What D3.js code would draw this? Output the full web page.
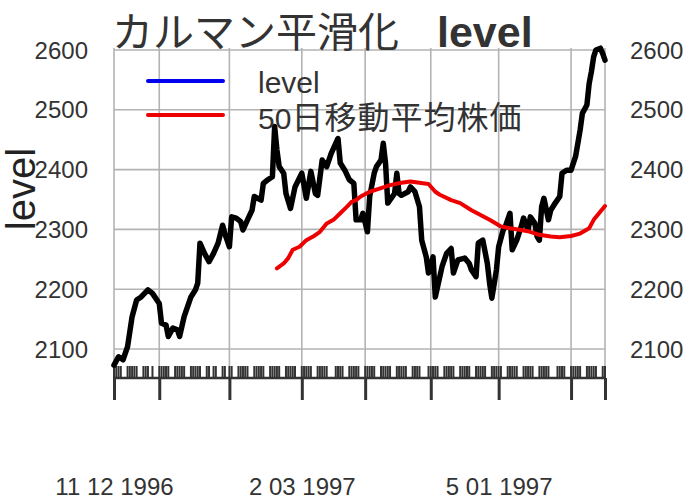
<!DOCTYPE html>
<html><head><meta charset="utf-8">
<script src="https://cdn.jsdelivr.net/npm/d3@7"></script>
<style>
html,body{margin:0;padding:0;background:#fff;}
svg{display:block;}
</style></head>
<body>
<svg id="chart" width="696" height="500"></svg>
<script>
// ---- data ----
const levelDates = ["1996-11-12","1996-11-14","1996-11-16","1996-11-18","1996-11-20","1996-11-22","1996-11-24","1996-11-27","1996-11-29",
"1996-12-02","1996-12-03","1996-12-05","1996-12-06","1996-12-08","1996-12-10","1996-12-11","1996-12-13","1996-12-16","1996-12-18","1996-12-19","1996-12-20","1996-12-22","1996-12-24","1996-12-26","1996-12-28","1996-12-30","1996-12-31",
"1997-01-02","1997-01-03","1997-01-05","1997-01-07","1997-01-08","1997-01-10","1997-01-12","1997-01-13","1997-01-16","1997-01-17","1997-01-19","1997-01-21","1997-01-22","1997-01-23","1997-01-24","1997-01-26","1997-01-27","1997-01-29","1997-01-31",
"1997-02-03","1997-02-05","1997-02-07","1997-02-09","1997-02-10","1997-02-12","1997-02-14","1997-02-16","1997-02-19","1997-02-20","1997-02-22","1997-02-24","1997-02-26","1997-02-27",
"1997-03-01","1997-03-02","1997-03-04","1997-03-05","1997-03-07","1997-03-08","1997-03-10","1997-03-11","1997-03-12","1997-03-13","1997-03-16","1997-03-17","1997-03-18","1997-03-19","1997-03-22","1997-03-23","1997-03-25","1997-03-27","1997-03-28","1997-03-30","1997-03-31",
"1997-04-02","1997-04-03","1997-04-05","1997-04-06","1997-04-08","1997-04-10","1997-04-11","1997-04-13","1997-04-16","1997-04-18","1997-04-19","1997-04-21","1997-04-22","1997-04-24","1997-04-26","1997-04-27","1997-04-28","1997-04-30",
"1997-05-01","1997-05-03","1997-05-04","1997-05-06","1997-05-07","1997-05-09","1997-05-11","1997-05-12","1997-05-14","1997-05-15","1997-05-17","1997-05-18","1997-05-19","1997-05-20","1997-05-21","1997-05-23","1997-05-24","1997-05-26","1997-05-28","1997-05-29","1997-05-31",
"1997-06-02","1997-06-04","1997-06-06","1997-06-07","1997-06-09","1997-06-10","1997-06-11","1997-06-12","1997-06-13","1997-06-15","1997-06-16","1997-06-17"];
const levelValues = [2073,2087,2082,2104,2154,2182,2187,2199,2193,
2176,2143,2140,2121,2135,2132,2121,2154,2187,2199,2210,2277,2260,2246,2260,2277,2307,2293,
2271,2321,2319,2313,2299,2316,2332,2355,2349,2377,2383,2388,2472,2433,2405,2394,2360,2335,2371,
2394,2352,2397,2360,2357,2416,2405,2427,2452,2411,2399,2383,2377,2316,
2316,2327,2296,2355,2394,2405,2416,2444,2411,2344,2360,2394,2360,2357,2363,2371,2363,2338,2282,2254,2227,
2254,2187,2221,2238,2260,2268,2227,2249,2252,2243,2232,2221,2277,2282,2243,2210,2185,2232,
2271,2299,2305,2327,2266,2282,2305,2319,2299,2321,2310,2288,2282,2338,2352,2316,2332,2344,2355,2394,2399,
2399,2422,2466,2494,2508,2544,2564,2589,2600,2603,2594,2583];

const maDates = ["1997-01-23","1997-01-26","1997-01-28","1997-01-30","1997-02-02","1997-02-05","1997-02-08","1997-02-11","1997-02-14","1997-02-17","1997-02-20","1997-02-23","1997-02-25","1997-02-27",
"1997-03-01","1997-03-05","1997-03-10","1997-03-14","1997-03-19","1997-03-23","1997-03-27","1997-03-31",
"1997-04-03","1997-04-05","1997-04-10","1997-04-14","1997-04-19","1997-04-23","1997-04-27",
"1997-05-02","1997-05-06","1997-05-11","1997-05-15","1997-05-19","1997-05-24","1997-05-28",
"1997-06-02","1997-06-06","1997-06-10","1997-06-12","1997-06-15","1997-06-17"];
const maValues = [2235,2243,2252,2266,2271,2282,2288,2296,2310,2316,2327,2338,2346,2349,
2355,2363,2369,2374,2378,2380,2378,2376,
2363,2358,2349,2344,2332,2324,2316,
2305,2302,2299,2296,2291,2288,2287,
2289,2293,2302,2316,2330,2339];

const marketHolidays = ["1996-11-28","1996-12-25","1997-01-01","1997-02-17","1997-03-28","1997-05-26"];
const majorTickDates = ["1996-11-12","1996-12-02","1997-01-02","1997-02-03","1997-03-03","1997-04-01","1997-05-01","1997-06-02","1997-06-17"];
const labeledTickDates = ["1996-11-12","1997-02-03","1997-05-01"];
const yTicks = [2100,2200,2300,2400,2500,2600];
const seriesNames = ["level","50日移動平均株価"];
const seriesColors = ["#0000ee","#ee0000"];
const titleMain = "カルマン平滑化";
const titleSub = "level";
const yTitle = "level";

// ---- layout ----
const P = {left:114, right:605, top:48, bottom:366, axisY:378};
const parse = d3.timeParse("%Y-%m-%d");
const fmt = d3.timeFormat("%-m %d %Y");
const svg = d3.select("#chart");
const latin = "'Liberation Sans', Arial, Helvetica, sans-serif";
const cjk = "'Noto Sans CJK JP', 'Noto Sans CJK SC', sans-serif";

const x = d3.scaleTime().domain([parse(levelDates[0]), parse(levelDates[levelDates.length-1])]).range([P.left, P.right]);
const y = d3.scaleLinear().domain([2100,2600]).range([349,50]);

const level = levelDates.map((d,i)=>({date:parse(d), value:levelValues[i]}));
const ma = maDates.map((d,i)=>({date:parse(d), value:maValues[i]}));
const hol = new Set(marketHolidays);
const tradingDays = d3.timeDay.range(x.domain()[0], d3.timeDay.offset(x.domain()[1],1))
  .filter(d => d.getDay()!==0 && d.getDay()!==6 && !hol.has(d3.timeFormat("%Y-%m-%d")(d)));

// gridlines
const grid = svg.append("g").attr("stroke","#b3b3b3").attr("stroke-width",1.6);
yTicks.forEach(v=>{
  grid.append("line").attr("x1",P.left).attr("x2",P.right).attr("y1",y(v)).attr("y2",y(v));
});
majorTickDates.forEach(d=>{
  const xx = x(parse(d));
  grid.append("line").attr("x1",xx).attr("x2",xx).attr("y1",P.top).attr("y2",P.bottom);
});

// y tick labels
const ylab = svg.append("g").attr("font-family",latin).attr("font-size",24).attr("fill","#333");
yTicks.forEach(v=>{
  ylab.append("text").attr("x",88).attr("y",y(v)).attr("dy","0.36em").attr("text-anchor","end").text(v);
  ylab.append("text").attr("x",630).attr("y",y(v)).attr("dy","0.36em").attr("text-anchor","start").text(v);
});

// rug / minor ticks
svg.append("g").attr("stroke","#333").attr("stroke-width",2)
  .selectAll("line").data(tradingDays).join("line")
  .attr("x1",d=>x(d)).attr("x2",d=>x(d)).attr("y1",P.bottom).attr("y2",P.axisY);

// x axis
const xAxis = d3.axisBottom(x)
  .tickValues(majorTickDates.map(parse))
  .tickSize(22)
  .tickFormat(d => labeledTickDates.includes(d3.timeFormat("%Y-%m-%d")(d)) ? fmt(d) : "");
const gx = svg.append("g").attr("transform",`translate(0,${P.axisY})`).call(xAxis);
gx.select(".domain").attr("stroke","#333").attr("stroke-width",2.5).attr("d",`M${P.left},0H${P.right}`);
gx.selectAll(".tick line").attr("stroke","#333").attr("stroke-width",3);
gx.selectAll(".tick text").attr("font-family",latin).attr("font-size",24).attr("fill","#333").attr("y",null).attr("dy",null)
  .attr("transform","translate(0,117)");

// lines
const line = d3.line().x(d=>x(d.date)).y(d=>y(d.value));
svg.append("path").datum(level).attr("d",line).attr("fill","none").attr("stroke","#000")
  .attr("stroke-width",5.5).attr("stroke-linejoin","round").attr("stroke-linecap","round");
svg.append("path").datum(ma).attr("d",line).attr("fill","none").attr("stroke",seriesColors[1])
  .attr("stroke-width",4).attr("stroke-linejoin","round").attr("stroke-linecap","round");

// legend
const legY = [81,115];
seriesNames.forEach((name,i)=>{
  svg.append("line").attr("x1",148).attr("x2",223).attr("y1",legY[i]).attr("y2",legY[i])
    .attr("stroke",seriesColors[i]).attr("stroke-width",4).attr("stroke-linecap","round");
});
const lt1 = svg.append("text").attr("x",258).attr("y",93).attr("fill","#333").attr("font-family",latin).attr("font-size",30).text(seriesNames[0]);
const lt2 = svg.append("text").attr("x",258).attr("y",129).attr("fill","#333");
lt2.append("tspan").attr("font-family",latin).attr("font-size",30).text(seriesNames[1].slice(0,2));
lt2.append("tspan").attr("font-family",cjk).attr("font-size",32).attr("letter-spacing",1).text(seriesNames[1].slice(2));

// title
const tt = svg.append("text").attr("x",112).attr("y",47).attr("fill","#333");
tt.append("tspan").attr("font-family",cjk).attr("font-size",41).text(titleMain);
tt.append("tspan").attr("x",437).attr("font-family",latin).attr("font-weight","bold").attr("font-size",43).text(titleSub);

// y title
svg.append("text").attr("transform","translate(35,189) rotate(-90)").attr("text-anchor","middle")
  .attr("font-family",latin).attr("font-size",40).attr("fill","#222").text(yTitle);
</script>
</body></html>
